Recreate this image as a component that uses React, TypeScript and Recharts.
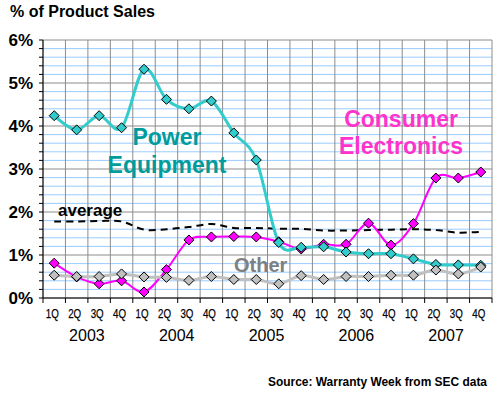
import React from 'react';
import { LineChart, Line, XAxis, YAxis, CartesianGrid } from 'recharts';

const QUARTERS = [
  '1Q', '2Q', '3Q', '4Q', '1Q', '2Q', '3Q', '4Q', '1Q', '2Q',
  '3Q', '4Q', '1Q', '2Q', '3Q', '4Q', '1Q', '2Q', '3Q', '4Q',
];
const YEARS = ['2003', '2004', '2005', '2006', '2007'];
const POWER = [4.24, 3.91, 4.24, 3.96, 5.32, 4.62, 4.4, 4.58, 3.84, 3.21, 1.29, 1.18, 1.19, 1.07, 1.03, 1.03, 0.91, 0.78, 0.77, 0.76];
const CONSUMER = [0.81, 0.49, 0.33, 0.4, 0.14, 0.66, 1.35, 1.42, 1.43, 1.42, 1.31, 1.14, 1.25, 1.25, 1.74, 1.23, 1.73, 2.79, 2.79, 2.93];
const OTHER = [0.53, 0.5, 0.5, 0.56, 0.49, 0.48, 0.41, 0.5, 0.43, 0.43, 0.33, 0.52, 0.43, 0.5, 0.5, 0.53, 0.53, 0.65, 0.56, 0.72];
const AVERAGE = [1.78, 1.78, 1.79, 1.78, 1.59, 1.6, 1.65, 1.72, 1.63, 1.63, 1.61, 1.61, 1.57, 1.57, 1.58, 1.59, 1.6, 1.58, 1.52, 1.54];
const Y_LABELS = [0, 1, 2, 3, 4, 5, 6];
const Y_MAX = 6;
const MINOR_STEP = 0.2;

const data = QUARTERS.map((q, i) => ({
  i,
  q,
  power: POWER[i],
  consumer: CONSUMER[i],
  other: OTHER[i],
  average: AVERAGE[i],
}));

const W = 500;
const H = 395;
const PLOT_LEFT = 43;
const PLOT_RIGHT = 492;
const PLOT_TOP = 40;
const PLOT_BOTTOM = 298;
const BAND = (PLOT_RIGHT - PLOT_LEFT) / QUARTERS.length;
const FONT = '"Liberation Sans", Arial, sans-serif';

const minorTicks = Array.from({ length: Math.round(Y_MAX / MINOR_STEP) + 1 }, (_, k) => +(k * MINOR_STEP).toFixed(1));

const isMajorY = (py: number) => {
  const v = ((PLOT_BOTTOM - py) / (PLOT_BOTTOM - PLOT_TOP)) * Y_MAX;
  return Y_LABELS.some((l) => Math.abs(v - l) < 0.05);
};

// excel-like smoothing (uniform catmull-rom as bezier)
const smoothCurve = (context: any) => {
  const k = 1 / 6;
  let x0 = NaN, y0 = NaN, x1 = NaN, y1 = NaN, x2 = NaN, y2 = NaN;
  let pt = 0;
  let line = NaN;
  const seg = (x: number, y: number) => {
    context.bezierCurveTo(x1 + k * (x2 - x0), y1 + k * (y2 - y0), x2 + k * (x1 - x), y2 + k * (y1 - y), x2, y2);
  };
  return {
    areaStart() { line = 0; },
    areaEnd() { line = NaN; },
    lineStart() {
      x0 = x1 = x2 = y0 = y1 = y2 = NaN;
      pt = 0;
    },
    lineEnd() {
      if (pt === 2) context.lineTo(x2, y2);
      else if (pt === 3) seg(x1, y1);
      if (line || (line !== 0 && pt === 1)) context.closePath();
      line = 1 - line;
    },
    point(x: number, y: number) {
      x = +x; y = +y;
      if (pt === 0) {
        pt = 1;
        if (line) context.lineTo(x, y); else context.moveTo(x, y);
      } else if (pt === 1) {
        pt = 2;
        x1 = x; y1 = y;
      } else {
        pt = 3;
        seg(x, y);
      }
      x0 = x1; x1 = x2; x2 = x;
      y0 = y1; y1 = y2; y2 = y;
    },
  };
};

const diamond = (fill: string) => (props: any) => {
  const { cx, cy, index } = props;
  if (cx == null || cy == null) return <g key={index} />;
  const r = 5;
  return (
    <path
      key={index}
      d={`M${cx},${cy - r}L${cx + r},${cy}L${cx},${cy + r}L${cx - r},${cy}Z`}
      fill={fill}
      stroke="#000"
      strokeWidth={1}
    />
  );
};

const YTick = (props: any) => {
  const { y, payload } = props;
  const v = payload.value;
  if (Math.abs(v - Math.round(v)) > 0.01) return <g />;
  return (
    <text x={33} y={y + 6} textAnchor="end" fontFamily={FONT} fontWeight="bold" fontSize={17} fill="#000">
      {`${Math.round(v)}%`}
    </text>
  );
};

const XTick = (props: any) => {
  const { x, payload, index } = props;
  const left = x - BAND / 2;
  const yr = Math.floor(index / 4);
  return (
    <g>
      <line x1={left} y1={PLOT_BOTTOM} x2={left} y2={PLOT_BOTTOM + 5} stroke="#000" />
      {index === QUARTERS.length - 1 && (
        <line x1={left + BAND} y1={PLOT_BOTTOM} x2={left + BAND} y2={PLOT_BOTTOM + 5} stroke="#000" />
      )}
      <text
        x={x - 2}
        y={PLOT_BOTTOM + 20}
        textAnchor="middle"
        fontFamily={FONT}
        fontSize={13}
        textLength={13}
        lengthAdjust="spacingAndGlyphs"
        stroke="#000"
        strokeWidth={0.25}
        fill="#000"
      >
        {QUARTERS[payload.value]}
      </text>
      {index % 4 === 1 && (
        <text x={x + BAND / 2 - 1} y={PLOT_BOTTOM + 43} textAnchor="middle" fontFamily={FONT} fontSize={16} fill="#000">
          {YEARS[yr]}
        </text>
      )}
    </g>
  );
};

const yPix = (v: number, offset: any) => offset.top + offset.height * (1 - v / Y_MAX);

const gridH = (p: any) => (
  <line
    key={`h${p.index}`}
    x1={p.x1}
    y1={p.y1}
    x2={p.x2}
    y2={p.y2}
    stroke={isMajorY(p.y1) ? '#8C8C8C' : '#99CCFF'}
    strokeWidth={1}
  />
);

const gridV = (p: any) => (
  <line key={`v${p.index}`} x1={p.x1} y1={p.y1} x2={p.x2} y2={p.y2} stroke="#8C8C8C" strokeWidth={1} />
);

export default function App() {
  return (
    <div style={{ position: 'absolute', left: 0, top: 0, width: W, height: H, background: '#fff' }}>
      <LineChart
        width={W}
        height={H}
        data={data}
        margin={{ top: PLOT_TOP, right: W - PLOT_RIGHT, bottom: 0, left: 0 }}
      >
        <CartesianGrid
          horizontal={gridH}
          vertical={gridV}
          horizontalCoordinatesGenerator={({ offset }: any) => minorTicks.map((v) => yPix(v, offset))}
          verticalCoordinatesGenerator={({ offset }: any) =>
            Array.from({ length: QUARTERS.length + 1 }, (_, k) => offset.left + (k * offset.width) / QUARTERS.length)
          }
        />
        <XAxis
          dataKey="i"
          type="category"
          interval={0}
          padding={{ left: BAND / 2, right: BAND / 2 }}
          height={H - PLOT_BOTTOM}
          axisLine={{ stroke: '#000' }}
          tickLine={false}
          tick={<XTick />}
        />
        <YAxis
          type="number"
          domain={[0, Y_MAX]}
          ticks={minorTicks}
          interval={0}
          width={PLOT_LEFT}
          axisLine={{ stroke: '#000' }}
          tickLine={{ stroke: '#000' }}
          tickSize={4}
          tick={<YTick />}
        />
        <Line
          dataKey="average"
          type={smoothCurve as any}
          stroke="#000"
          strokeWidth={2}
          strokeDasharray="7 5"
          dot={false}
          activeDot={false}
          isAnimationActive={false}
        />
        <Line
          dataKey="consumer"
          type={smoothCurve as any}
          stroke="#FF00FF"
          strokeWidth={2}
          dot={diamond('#FF00FF')}
          activeDot={false}
          isAnimationActive={false}
        />
        <Line
          dataKey="power"
          type={smoothCurve as any}
          stroke="#33CCCC"
          strokeWidth={3}
          dot={diamond('#33CCCC')}
          activeDot={false}
          isAnimationActive={false}
        />
        <Line
          dataKey="other"
          type={smoothCurve as any}
          stroke="#C0C0C0"
          strokeWidth={3}
          dot={diamond('#C0C0C0')}
          activeDot={false}
          isAnimationActive={false}
        />
      </LineChart>
      <svg width={W} height={H} style={{ position: 'absolute', left: 0, top: 0, pointerEvents: 'none' }}>
        <text x={10} y={17} fontFamily={FONT} fontWeight="bold" fontSize={16} fill="#000">
          % of Product Sales
        </text>
        <g fontFamily={FONT} fontWeight="bold" fontSize={23} textAnchor="middle">
          <text x={167} y={145} fill="#009C9C">Power</text>
          <text x={167} y={173} fill="#009C9C">Equipment</text>
          <text x={401} y={127} fill="#FF33CC">Consumer</text>
          <text x={401} y={154} fill="#FF33CC">Electronics</text>
        </g>
        <text x={58} y={216} fontFamily={FONT} fontWeight="bold" fontSize={17} fill="#000">
          average
        </text>
        <text x={234} y={272} fontFamily={FONT} fontWeight="bold" fontSize={20} fill="#808080">
          Other
        </text>
        <text
          x={487}
          y={386}
          textAnchor="end"
          fontFamily={FONT}
          fontWeight="bold"
          fontSize={12}
          textLength={219}
          lengthAdjust="spacingAndGlyphs"
          fill="#000"
        >
          Source: Warranty Week from SEC data
        </text>
      </svg>
    </div>
  );
}
